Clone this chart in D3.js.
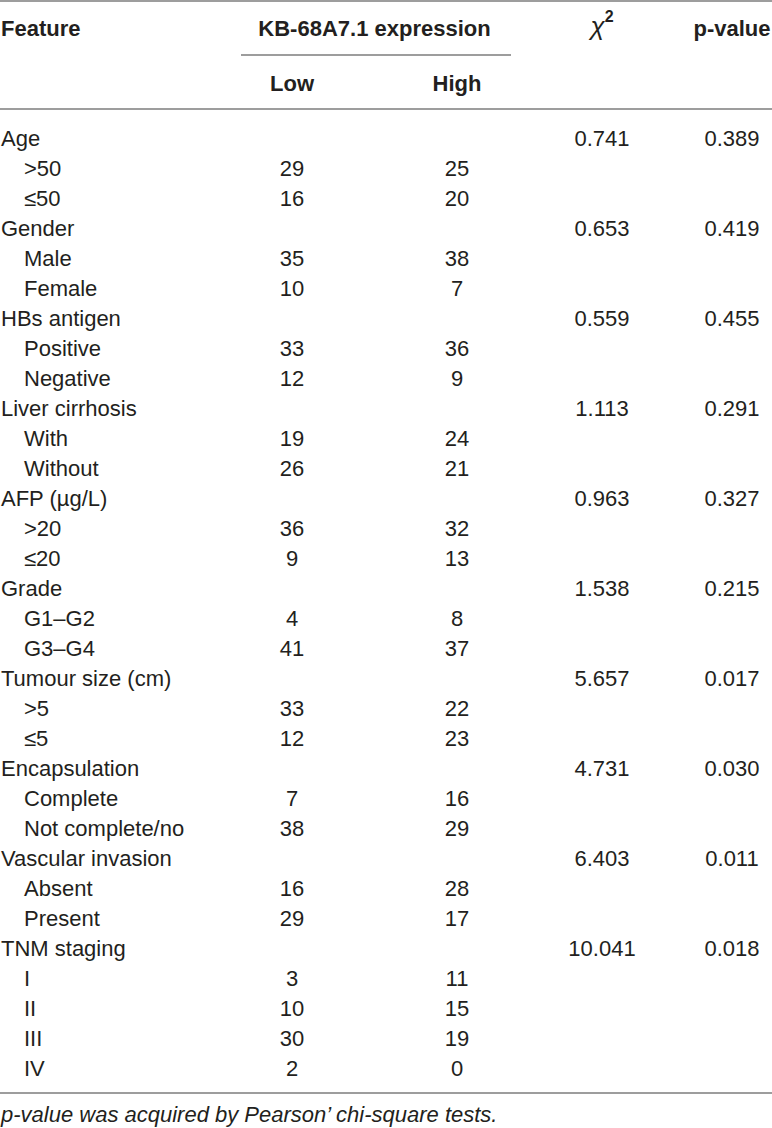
<!DOCTYPE html>
<html>
<head>
<meta charset="utf-8">
<script src="https://cdn.jsdelivr.net/npm/d3@7"></script>
<style>
  body { margin: 0; background: #fff; }
  text { font-family: "Liberation Sans", Arial, sans-serif; fill: #231f20; }
</style>
</head>
<body>
<svg width="772" height="1128"></svg>
<script>
var svg = d3.select('svg');
var w = 772;
var h = 1128;

// table data
var features = ["Age", "Gender", "HBs antigen", "Liver cirrhosis", "AFP (\u00b5g/L)", "Grade",
  "Tumour size (cm)", "Encapsulation", "Vascular invasion", "TNM staging"];
var chiSq = ["0.741", "0.653", "0.559", "1.113", "0.963", "1.538", "5.657", "4.731", "6.403", "10.041"];
var pValues = ["0.389", "0.419", "0.455", "0.291", "0.327", "0.215", "0.017", "0.030", "0.011", "0.018"];
var levels = [[">50", "\u226450"], ["Male", "Female"], ["Positive", "Negative"], ["With", "Without"],
  [">20", "\u226420"], ["G1\u2013G2", "G3\u2013G4"], [">5", "\u22645"], ["Complete", "Not complete/no"],
  ["Absent", "Present"], ["I", "II", "III", "IV"]];
var lowCounts = [[29, 16], [35, 10], [33, 12], [19, 26], [36, 9], [4, 41], [33, 12], [7, 38], [16, 29], [3, 10, 30, 2]];
var highCounts = [[25, 20], [38, 7], [36, 9], [24, 21], [32, 13], [8, 37], [22, 23], [16, 29], [28, 17], [11, 15, 19, 0]];
var columns = ["Low", "High", "chi", "p"];
var footnote = "p-value was acquired by Pearson\u2019 chi-square tests.";

// flatten into rows
var rows = [];
features.forEach(function(f, i) {
  rows.push({ label: f, indent: false, chi: chiSq[i], p: pValues[i] });
  levels[i].forEach(function(l, j) {
    rows.push({ label: l, indent: true, low: lowCounts[i][j], high: highCounts[i][j] });
  });
});

var y = d3.scaleLinear().domain([0, rows.length - 1]).range([138, 1068]);
var x = d3.scaleOrdinal().domain(columns).range([292, 457, 602, 732]);
var fs = 22;

function hline(yy, x1, x2) {
  svg.append("line").attr("x1", x1).attr("x2", x2).attr("y1", yy).attr("y2", yy)
    .attr("stroke", "#9d9d9d").attr("stroke-width", 2);
}
hline(1, 0, w);
hline(55, 241, 511);
hline(109, 0, w);
hline(1093, 0, w);

// header
var head = svg.append("g").attr("font-weight", "bold").attr("font-size", fs);
head.append("text").attr("x", 1).attr("y", 28).attr("dy", "0.35em").text("Feature");
head.append("text").attr("x", (x("Low") + x("High")) / 2).attr("y", 28).attr("dy", "0.35em")
  .attr("text-anchor", "middle").text("KB-68A7.1 expression");
head.append("text").attr("x", x("p")).attr("y", 28).attr("dy", "0.35em")
  .attr("text-anchor", "middle").text("p-value");
head.append("text").attr("x", x("Low")).attr("y", 83).attr("dy", "0.35em")
  .attr("text-anchor", "middle").text("Low");
head.append("text").attr("x", x("High")).attr("y", 83).attr("dy", "0.35em")
  .attr("text-anchor", "middle").text("High");
var chiHead = svg.append("text").attr("x", x("chi")).attr("y", 35)
  .attr("text-anchor", "middle").style("font-size", "26px");
chiHead.append("tspan").style("font-style", "italic").text("\u03c7");
chiHead.append("tspan").style("font-size", "16px").style("font-weight", "bold")
  .attr("dy", -13).text("2");

// body rows
var body = svg.append("g").attr("font-size", fs);
var r = body.selectAll("g.row").data(rows).enter().append("g").attr("class", "row")
  .attr("transform", function(d, i) { return "translate(0," + y(i) + ")"; });

r.append("text").attr("x", function(d) { return d.indent ? 24 : 1; })
  .attr("dy", "0.35em").text(function(d) { return d.label; });
r.filter(function(d) { return d.indent; }).append("text").attr("x", x("Low"))
  .attr("dy", "0.35em").attr("text-anchor", "middle").text(function(d) { return d.low; });
r.filter(function(d) { return d.indent; }).append("text").attr("x", x("High"))
  .attr("dy", "0.35em").attr("text-anchor", "middle").text(function(d) { return d.high; });
r.filter(function(d) { return !d.indent; }).append("text").attr("x", x("chi"))
  .attr("dy", "0.35em").attr("text-anchor", "middle").text(function(d) { return d.chi; });
r.filter(function(d) { return !d.indent; }).append("text").attr("x", x("p"))
  .attr("dy", "0.35em").attr("text-anchor", "middle").text(function(d) { return d.p; });

svg.append("text").attr("x", 1).attr("y", 1114).attr("dy", "0.35em")
  .attr("font-size", fs).attr("font-style", "italic").text(footnote);
</script>
</body>
</html>
